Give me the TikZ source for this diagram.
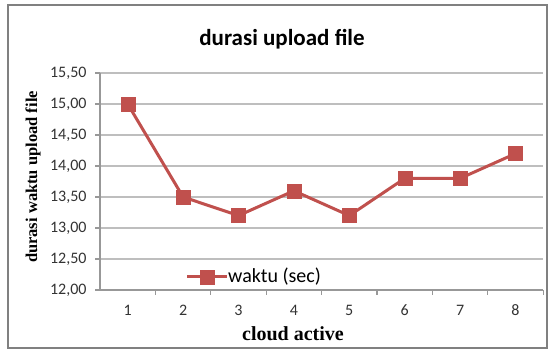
\documentclass[tikz,border=0pt]{standalone}
\usepackage{fontspec}
\setmainfont{Carlito}
\newfontfamily\titlefont{Liberation Serif}
\usetikzlibrary{calc}
\definecolor{seriesred}{RGB}{192,80,77}
\definecolor{gridgrey}{RGB}{190,190,190}
\definecolor{framegrey}{RGB}{128,128,128}
\tikzset{
  gridline/.style={draw=gridgrey, line width=1.2pt},
  axisline/.style={draw=gridgrey!80!black, line width=1.2pt},
  ticklabel/.style={font=\fontsize{16}{16}\selectfont, text=black!80},
  marker/.style={draw=seriesred, fill=seriesred, minimum size=14pt, inner sep=0pt},
  seriesline/.style={draw=seriesred, line width=3pt, line join=round}
}

\begin{document}
\begin{tikzpicture}[x=1pt, y=-1pt]
			%%%%% START %%%%%
			\useasboundingbox (0, 0) rectangle (550, 350);
			\fill[white] (0, 0) rectangle (550, 350);
			\draw[draw=framegrey, line width=1.5pt] (8, 5) rectangle (547, 348);
			
			\node[font=\bfseries\fontsize{23}{23}\selectfont] (title) at (282, 39) {durasi upload file};
			
			% grid
			\draw[gridline] (100, 73) -- (543, 73);
			\draw[gridline] (100, 104) -- (543, 104);
			\draw[gridline] (100, 135) -- (543, 135);
			\draw[gridline] (100, 166) -- (543, 166);
			\draw[gridline] (100, 197) -- (543, 197);
			\draw[gridline] (100, 228) -- (543, 228);
			\draw[gridline] (100, 259) -- (543, 259);
			
			% axes
			\draw[axisline] (100, 73) -- (100, 290) -- (543, 290);
			\draw[axisline] (95, 73) -- (100, 73);
			\draw[axisline] (95, 104) -- (100, 104);
			\draw[axisline] (95, 135) -- (100, 135);
			\draw[axisline] (95, 166) -- (100, 166);
			\draw[axisline] (95, 197) -- (100, 197);
			\draw[axisline] (95, 228) -- (100, 228);
			\draw[axisline] (95, 259) -- (100, 259);
			\draw[axisline] (95, 290) -- (100, 290);
			\draw[axisline] (155.4, 290) -- (155.4, 295);
			\draw[axisline] (210.8, 290) -- (210.8, 295);
			\draw[axisline] (266.2, 290) -- (266.2, 295);
			\draw[axisline] (321.6, 290) -- (321.6, 295);
			\draw[axisline] (377, 290) -- (377, 295);
			\draw[axisline] (432.4, 290) -- (432.4, 295);
			\draw[axisline] (487.8, 290) -- (487.8, 295);
			\draw[axisline] (543.2, 290) -- (543.2, 295);
			
			% y labels
			\node[ticklabel, anchor=east] (y1550) at (90, 73) {15,50};
			\node[ticklabel, anchor=east] (y1500) at (90, 104) {15,00};
			\node[ticklabel, anchor=east] (y1450) at (90, 135) {14,50};
			\node[ticklabel, anchor=east] (y1400) at (90, 166) {14,00};
			\node[ticklabel, anchor=east] (y1350) at (90, 197) {13,50};
			\node[ticklabel, anchor=east] (y1300) at (90, 228) {13,00};
			\node[ticklabel, anchor=east] (y1250) at (90, 259) {12,50};
			\node[ticklabel, anchor=east] (y1200) at (90, 290) {12,00};
			
			% x labels
			\node[ticklabel] (x1) at (127.7, 310) {1};
			\node[ticklabel] (x2) at (183.1, 310) {2};
			\node[ticklabel] (x3) at (238.5, 310) {3};
			\node[ticklabel] (x4) at (293.9, 310) {4};
			\node[ticklabel] (x5) at (349.3, 310) {5};
			\node[ticklabel] (x6) at (404.7, 310) {6};
			\node[ticklabel] (x7) at (460.1, 310) {7};
			\node[ticklabel] (x8) at (515.5, 310) {8};
			
			% axis titles
			\node[font=\titlefont\bfseries\fontsize{20}{20}\selectfont] (xtitle) at (293, 334) {cloud active};
			\node[font=\titlefont\bfseries\fontsize{16.5}{16.5}\selectfont, rotate=90] (ytitle) at (33, 177) {durasi waktu upload file};
			
			% data
			\coordinate (p1) at (127.7, 104);
			\coordinate (p2) at (183.1, 197);
			\coordinate (p3) at (238.5, 215.6);
			\coordinate (p4) at (293.9, 190.8);
			\coordinate (p5) at (349.3, 215.6);
			\coordinate (p6) at (404.7, 178.4);
			\coordinate (p7) at (460.1, 178.4);
			\coordinate (p8) at (515.5, 153.6);
			\draw[seriesline] (p1) -- (p2) -- (p3) -- (p4) -- (p5) -- (p6) -- (p7) -- (p8);
			\node[marker] (m1) at (p1) {};
			\node[marker] (m2) at (p2) {};
			\node[marker] (m3) at (p3) {};
			\node[marker] (m4) at (p4) {};
			\node[marker] (m5) at (p5) {};
			\node[marker] (m6) at (p6) {};
			\node[marker] (m7) at (p7) {};
			\node[marker] (m8) at (p8) {};
			
			% legend
			\coordinate (legA) at (187, 277);
			\coordinate (legB) at (227, 277);
			\draw[seriesline] (legA) -- (legB);
			\node[marker] (legm) at ($(legA)!0.5!(legB)$) {};
			\node[anchor=west, inner sep=1pt, font=\fontsize{20}{20}\selectfont] (legtext) at (legB) {waktu (sec)};
			
			%%%%% END %%%%%
\end{tikzpicture}
\end{document}
